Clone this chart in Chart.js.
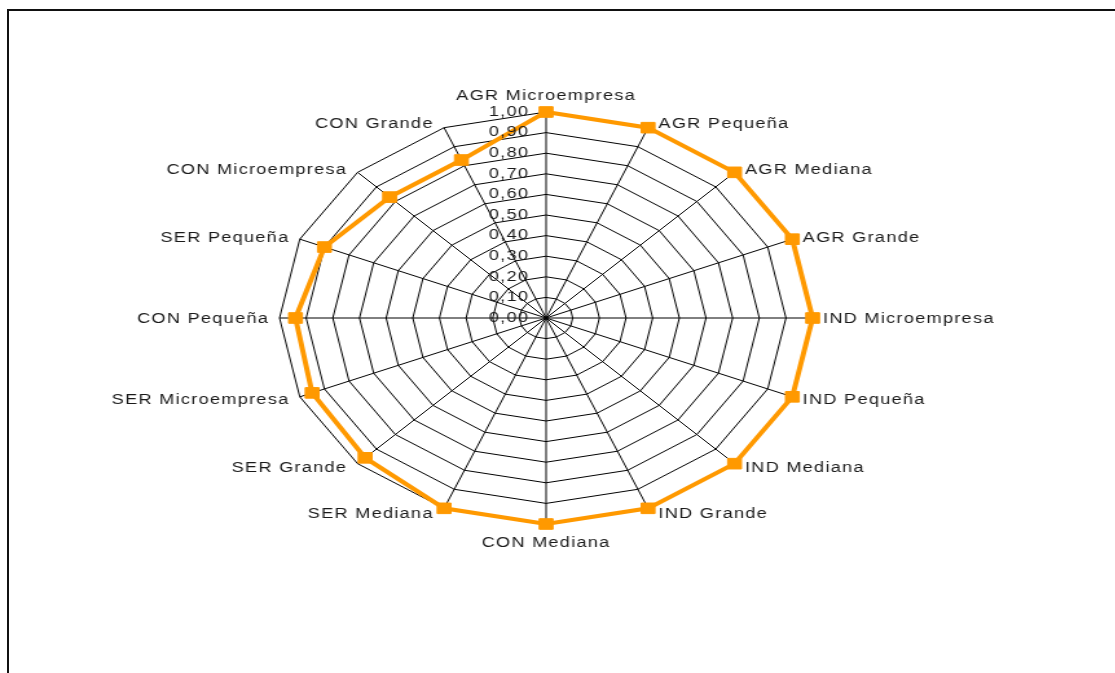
<!DOCTYPE html>
<html lang="es">
<head>
    <meta charset="UTF-8">
    <title>Radar por sector y tamaño de empresa</title>
    <script src="https://cdn.jsdelivr.net/npm/chart.js@4.4.0/dist/chart.umd.min.js"></script>
    <style>
        html, body { margin: 0; padding: 0; background: #fff; overflow: hidden; }
        #frame {
            position: absolute; left: 7px; top: 9px; width: 1200px; height: 800px;
            border-top: 2px solid #111; border-left: 2px solid #111;
        }
        /* the plot is stretched sideways, text included */
        #wrap {
            position: absolute; left: 0; top: 0;
            transform: scaleX(1.294); transform-origin: 0 0;
        }
    </style>
</head>
<body>
    <div id="frame"></div>
    <div id="wrap"><canvas id="chart" width="862" height="673"></canvas></div>

    <script>
        // categories, clockwise from the top
        const categorias = [
            'AGR Microempresa', 'AGR Pequeña', 'AGR Mediana', 'AGR Grande',
            'IND Microempresa', 'IND Pequeña', 'IND Mediana', 'IND Grande',
            'CON Mediana', 'SER Mediana', 'SER Grande', 'SER Microempresa',
            'CON Pequeña', 'SER Pequeña', 'CON Microempresa', 'CON Grande'
        ];
        const valores = [
            1.00, 1.00, 1.00, 1.00,
            1.00, 1.00, 1.00, 1.00,
            1.00, 1.00, 0.96, 0.95,
            0.94, 0.90, 0.83, 0.83
        ];
        const ejeMin = 0;
        const ejeMax = 1;
        const ejePaso = 0.1;

        const FONT = '14px "Liberation Sans", Arial, sans-serif';
        const fmt = v => v.toFixed(2).replace('.', ',');

        // tick labels to the left of the vertical axis and category labels
        // next to the outer ring, placed from the scale's own geometry
        const etiquetas = {
            id: 'etiquetas',
            afterDraw(chart) {
                const r = chart.scales.r;
                const ctx = chart.ctx;
                ctx.save();
                ctx.font = FONT;
                ctx.fillStyle = '#1a1a1a';
                if ('letterSpacing' in ctx) ctx.letterSpacing = '1px';

                ctx.textAlign = 'right';
                ctx.textBaseline = 'middle';
                r.ticks.forEach(t => {
                    const d = r.getDistanceFromCenterForValue(t.value);
                    ctx.fillText(fmt(t.value), r.xCenter - 13, r.yCenter - d);
                });

                chart.data.labels.forEach((lab, i) => {
                    const p = r.getPointPosition(i, r.drawingArea);
                    const a = r.getIndexAngle(i);
                    const s = Math.sin(a), c = Math.cos(a);
                    if (Math.abs(s) < 0.01) {
                        ctx.textAlign = 'center';
                        if (c > 0) {
                            ctx.textBaseline = 'bottom';
                            ctx.fillText(lab, p.x, p.y - 9);
                        } else {
                            ctx.textBaseline = 'top';
                            ctx.fillText(lab, p.x, p.y + 12);
                        }
                    } else {
                        ctx.textAlign = s > 0 ? 'left' : 'right';
                        ctx.textBaseline = 'middle';
                        ctx.fillText(lab, p.x + (s > 0 ? 8 : -8), p.y + 1 - c * 5);
                    }
                });
                ctx.restore();
            }
        };

        const ctx = document.getElementById('chart').getContext('2d');
        new Chart(ctx, {
            type: 'radar',
            data: {
                labels: categorias,
                datasets: [{
                    data: valores,
                    fill: false,
                    borderColor: '#FF9900',
                    backgroundColor: '#FF9900',
                    borderWidth: 4,
                    tension: 0,
                    pointStyle: 'rect',
                    pointRadius: 7.5,
                    pointBackgroundColor: '#FF9900',
                    pointBorderColor: '#FF9900',
                    pointBorderWidth: 1
                }]
            },
            options: {
                responsive: false,
                maintainAspectRatio: false,
                animation: false,
                layout: { padding: { left: 216, right: 234, top: 112, bottom: 149 } },
                plugins: {
                    legend: { display: false },
                    tooltip: { enabled: false }
                },
                scales: {
                    r: {
                        min: ejeMin,
                        max: ejeMax,
                        ticks: { stepSize: ejePaso, display: false },
                        grid: { color: '#000', lineWidth: 1, circular: false },
                        angleLines: { display: true, color: '#000', lineWidth: 1 },
                        pointLabels: { display: false }
                    }
                }
            },
            plugins: [etiquetas]
        });
    </script>
</body>
</html>
